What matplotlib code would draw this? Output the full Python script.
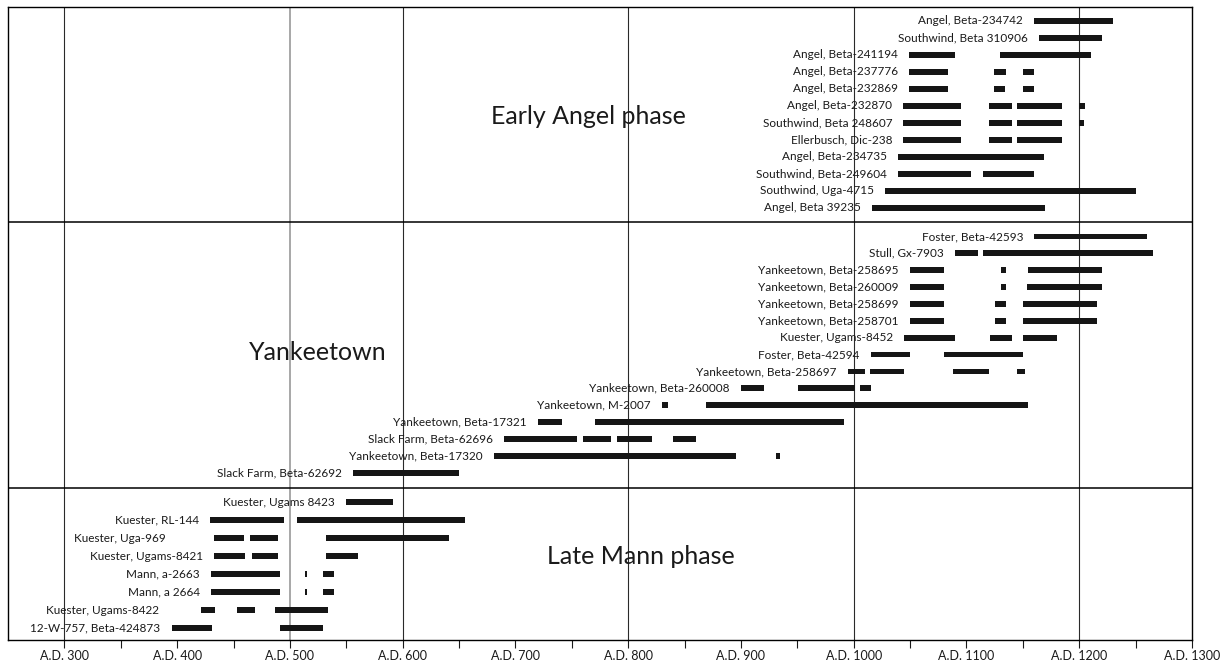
import matplotlib
matplotlib.use("Agg")
import matplotlib.pyplot as plt

plt.rcParams["font.family"] = ["Lato", "DejaVu Sans"]

# ---- data: calibrated date ranges (A.D.) for each sample, top to bottom ----
early_angel_labels = [
    "Angel, Beta-234742", "Southwind, Beta 310906", "Angel, Beta-241194",
    "Angel, Beta-237776", "Angel, Beta-232869", "Angel, Beta-232870",
    "Southwind, Beta 248607", "Ellerbusch, Dic-238", "Angel, Beta-234735",
    "Southwind, Beta-249604", "Southwind, Uga-4715", "Angel, Beta 39235",
]
early_angel_ranges = [
    [(1160, 1230)],
    [(1164, 1220)],
    [(1049, 1090), (1130, 1210)],
    [(1049, 1084), (1124, 1135), (1150, 1160)],
    [(1049, 1084), (1124, 1134), (1150, 1160)],
    [(1044, 1095), (1120, 1140), (1145, 1185), (1200, 1205)],
    [(1044, 1095), (1120, 1140), (1145, 1185), (1200, 1204)],
    [(1044, 1095), (1120, 1140), (1145, 1185)],
    [(1039, 1169)],
    [(1039, 1104), (1115, 1160)],
    [(1028, 1250)],
    [(1016, 1170)],
]

yankeetown_labels = [
    "Foster, Beta-42593", "Stull, Gx-7903", "Yankeetown, Beta-258695",
    "Yankeetown, Beta-260009", "Yankeetown, Beta-258699", "Yankeetown, Beta-258701",
    "Kuester, Ugams-8452", "Foster, Beta-42594", "Yankeetown, Beta-258697",
    "Yankeetown, Beta-260008", "Yankeetown, M-2007", "Yankeetown, Beta-17321",
    "Slack Farm, Beta-62696", "Yankeetown, Beta-17320", "Slack Farm, Beta-62692",
]
yankeetown_ranges = [
    [(1160, 1260)],
    [(1090, 1110), (1115, 1265)],
    [(1050, 1080), (1131, 1135), (1155, 1220)],
    [(1050, 1080), (1131, 1135), (1154, 1220)],
    [(1050, 1080), (1125, 1135), (1150, 1216)],
    [(1050, 1080), (1125, 1135), (1150, 1216)],
    [(1045, 1090), (1121, 1140), (1150, 1180)],
    [(1015, 1050), (1080, 1150)],
    [(995, 1010), (1014, 1045), (1088, 1120), (1145, 1152)],
    [(900, 920), (951, 1001), (1006, 1015)],
    [(830, 835), (869, 1155)],
    [(720, 741), (771, 991)],
    [(690, 755), (760, 785), (790, 821), (840, 860)],
    [(681, 896), (931, 935)],
    [(556, 650)],
]

late_mann_labels = [
    "Kuester, Ugams 8423", "Kuester, RL-144", "Kuester, Uga-969",
    "Kuester, Ugams-8421", "Mann, a-2663", "Mann, a 2664",
    "Kuester, Ugams-8422", "12-W-757, Beta-424873",
]
late_mann_ranges = [
    [(550, 591)],
    [(429, 495), (506, 655)],
    [(433, 459), (465, 489), (532, 641)],
    [(433, 460), (466, 489), (532, 560)],
    [(430, 491), (513, 515), (529, 539)],
    [(430, 491), (513, 515), (529, 539)],
    [(421, 434), (453, 469), (487, 534)],
    [(395, 431), (491, 529)],
]

phase_names = ["Early Angel phase", "Yankeetown", "Late Mann phase"]
tick_years = list(range(300, 1301, 50))

# labels that sit away from their first bar
label_anchor = {"Kuester, Uga-969": 400, "Kuester, Ugams-8422": 394}

# ---- layout (vertical positions in pixel-like units, top = 7, bottom = 640) ----
panels = [
    (early_angel_labels, early_angel_ranges, 20.7, 17.0),
    (yankeetown_labels, yankeetown_ranges, 236.5, 16.87),
    (late_mann_labels, late_mann_ranges, 502.0, 18.0),
]
separators = [222, 488]
phase_pos = [(765, 117), (525, 353), (811, 557)]

fig = plt.figure(figsize=(12.3, 6.64), dpi=100)
ax = fig.add_axes([8 / 1230, 24 / 664, 1184 / 1230, 633 / 664])
ax.set_xlim(250, 1300)
ax.set_ylim(640, 7)

for x in [300, 600, 800, 1000, 1200]:
    ax.axvline(x, color="#2a2a2a", lw=0.8, zorder=1)
ax.axvline(500, color="#a0a0a0", lw=1.3, zorder=1)
for y in separators:
    ax.axhline(y, color="black", lw=1.1, zorder=1)

for labels, ranges, first, step in panels:
    for i, (lab, rs) in enumerate(zip(labels, ranges)):
        y = first + i * step
        ax.broken_barh([(s, e - s) for s, e in rs], (y - 2.9, 5.8),
                       facecolors="#151515", zorder=3)
        x0 = label_anchor.get(lab, rs[0][0])
        ax.annotate(lab, (x0, y), xytext=(-8, 0), textcoords="offset points",
                    ha="right", va="center", fontsize=8.5, color="#1a1a1a", zorder=4)

for name, (x, y) in zip(phase_names, phase_pos):
    ax.text(x, y, name, ha="center", va="center", fontsize=18, color="#1a1a1a")

ax.set_xticks(tick_years)
ax.set_xticklabels(["A.D. %d" % t if t % 100 == 0 else "" for t in tick_years])
ax.tick_params(axis="x", direction="out", length=6, width=0.8, pad=1,
               labelsize=9, colors="#1a1a1a")
ax.set_yticks([])
for sp in ax.spines.values():
    sp.set_linewidth(1.0)

fig.savefig("out.png", dpi=100)
